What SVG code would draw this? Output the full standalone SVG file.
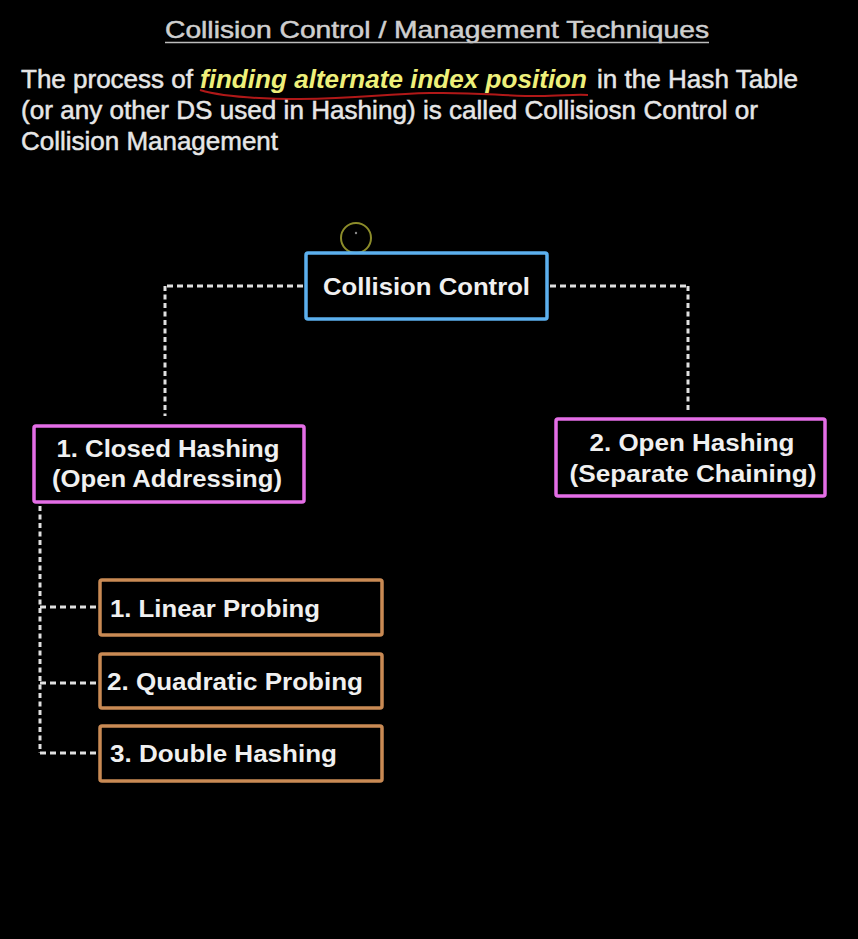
<svg xmlns="http://www.w3.org/2000/svg" width="858" height="939" viewBox="0 0 858 939">
<style>
  .t { font-family: "Liberation Sans", Arial, Helvetica, sans-serif; fill: #e6e6e6; stroke: #e6e6e6; stroke-width: 0.5; }
  .title { font-size: 24px; fill: #cfcfcf; stroke: #cfcfcf; }
  .p { font-size: 26px; }
  .hl { font-size: 26px; font-weight: bold; font-style: italic; fill: #eef07a; stroke: none; }
  .nl { font-family: "Liberation Sans", Arial, Helvetica, sans-serif; font-weight: bold; font-size: 24px; fill: #f0f0f0; }
  .box { fill: #000; stroke-width: 3.5; }
  .blue { stroke: #5cb0ee; }
  .pink { stroke: #e46ee6; }
  .orange { stroke: #c98a54; }
  .dh { fill: none; stroke: #e0e0e0; stroke-width: 3; stroke-dasharray: 6 4; }
  .dv { fill: none; stroke: #e0e0e0; stroke-width: 3; stroke-dasharray: 5 3.5; }
</style>
<rect x="0" y="0" width="858" height="939" fill="#000"/>

<g id="header">
  <text class="t title" x="165" y="38" textLength="544" lengthAdjust="spacingAndGlyphs">Collision Control / Management Techniques</text>
  <line x1="165" y1="42.5" x2="709" y2="42.5" stroke="#bdbdbd" stroke-width="1.6"/>
  <text class="t p" x="21" y="88" textLength="172" lengthAdjust="spacingAndGlyphs">The process of</text>
  <text class="t hl" x="200" y="88" textLength="387" lengthAdjust="spacingAndGlyphs">finding alternate index position</text>
  <text class="t p" x="597" y="88" textLength="201" lengthAdjust="spacingAndGlyphs">in the Hash Table</text>
  <path d="M200,90 C220,96 250,99 300,99 C360,99 380,94 430,93 C480,92 500,96 540,96 C560,96 575,94 588,95" fill="none" stroke="#b01818" stroke-width="2"/>
  <text class="t p" x="21" y="119" textLength="737" lengthAdjust="spacingAndGlyphs">(or any other DS used in Hashing) is called Collisiosn Control or</text>
  <text class="t p" x="21" y="150" textLength="257" lengthAdjust="spacingAndGlyphs">Collision Management</text>
</g>

<g id="cursor">
  <circle cx="356" cy="238" r="15" fill="none" stroke="#8c8c2a" stroke-width="2"/>
  <circle cx="356" cy="233" r="1.2" fill="#888"/>
</g>

<g id="connectors">
  <path class="dh" d="M303,286 H165"/>
  <path class="dv" d="M165,286 V416"/>
  <path class="dh" d="M550,286 H688"/>
  <path class="dv" d="M688,286 V413"/>
  <path class="dv" d="M40,506 V753"/>
  <path class="dh" d="M40,607 H98"/>
  <path class="dh" d="M40,683 H98"/>
  <path class="dh" d="M40,753 H98"/>
</g>

<g id="collision-control">
  <rect class="box blue" x="306" y="253" width="241" height="66" rx="2"/>
  <text class="nl" x="426.5" y="295" text-anchor="middle" font-size="25.5" textLength="207" lengthAdjust="spacingAndGlyphs">Collision Control</text>
</g>

<g id="closed-hashing">
  <rect class="box pink" x="34" y="426" width="270" height="76" rx="2"/>
  <text class="nl" x="168" y="457" text-anchor="middle" textLength="223" lengthAdjust="spacingAndGlyphs">1. Closed Hashing</text>
  <text class="nl" x="167" y="487" text-anchor="middle" textLength="230" lengthAdjust="spacingAndGlyphs">(Open Addressing)</text>
</g>

<g id="open-hashing">
  <rect class="box pink" x="556" y="419" width="269" height="77" rx="2"/>
  <text class="nl" x="692" y="451" text-anchor="middle" textLength="205" lengthAdjust="spacingAndGlyphs">2. Open Hashing</text>
  <text class="nl" x="693" y="482" text-anchor="middle" textLength="247" lengthAdjust="spacingAndGlyphs">(Separate Chaining)</text>
</g>

<g id="linear-probing">
  <rect class="box orange" x="100" y="580" width="282" height="55" rx="2"/>
  <text class="nl" x="110" y="617" textLength="210" lengthAdjust="spacingAndGlyphs">1. Linear Probing</text>
</g>

<g id="quadratic-probing">
  <rect class="box orange" x="100" y="654" width="282" height="54" rx="2"/>
  <text class="nl" x="107" y="690" textLength="256" lengthAdjust="spacingAndGlyphs">2. Quadratic Probing</text>
</g>

<g id="double-hashing">
  <rect class="box orange" x="100" y="726" width="282" height="55" rx="2"/>
  <text class="nl" x="110" y="762" textLength="227" lengthAdjust="spacingAndGlyphs">3. Double Hashing</text>
</g>
</svg>
